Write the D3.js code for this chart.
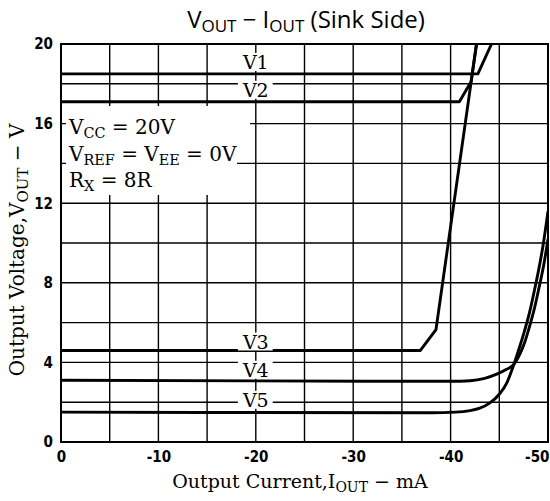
<!DOCTYPE html>
<html><head><meta charset="utf-8">
<script src="https://cdn.jsdelivr.net/npm/d3@7"></script>
<style>body{margin:0;background:#fff}</style>
</head><body><svg id="c" width="550" height="501"></svg>
<script>
// ---- data ----
const xTicks = [0, -10, -20, -30, -40, -50];
const yTicks = [0, 4, 8, 12, 16, 20];
const xGrid = [-5, -10, -15, -20, -25, -30, -35, -40, -45];
const yGrid = [2, 4, 6, 8, 10, 12, 14, 16, 18];
const seriesNames = ["V1", "V2", "V3", "V4", "V5"];
const v1Current = [0, -42.8, -44.2];
const v1Voltage = [18.5, 18.5, 20];
const v2Current = [0, -40.9, -42.1, -42.66];
const v2Voltage = [17.1, 17.1, 18.1, 20];
const v3Current = [0, -36.9, -38.5, -42.66];
const v3Voltage = [4.6, 4.6, 5.65, 20];
const v4Current = [0, -40, -42, -43.5, -44.8, -45.7, -46.5, -47.1, -47.6, -48.1, -48.6, -49.1, -49.6, -50];
const v4Voltage = [3.1, 3.05, 3.08, 3.2, 3.42, 3.64, 3.9, 4.4, 5.0, 5.8, 6.7, 7.8, 9.0, 10.2];
const v5Current = [0, -38, -40.5, -42, -43, -44, -45, -45.8, -46.5, -47.1, -47.6, -48.1, -48.6, -49.1, -49.5, -50];
const v5Voltage = [1.5, 1.47, 1.5, 1.58, 1.7, 1.95, 2.4, 3.0, 3.9, 4.8, 5.6, 6.5, 7.6, 8.8, 9.9, 11.6];
const labelCurrent = [-20, -20, -20, -20, -20];
const labelVoltage = [19.1, 17.7, 5.05, 3.63, 2.12];

const series = [
  {c: v1Current, v: v1Voltage, smooth: false},
  {c: v2Current, v: v2Voltage, smooth: false},
  {c: v3Current, v: v3Voltage, smooth: false},
  {c: v4Current, v: v4Voltage, smooth: true},
  {c: v5Current, v: v5Voltage, smooth: true}
];

// ---- layout ----
const L = 61, R = 548, T = 44, B = 442;
const svg = d3.select("#c");
const x = d3.scaleLinear().domain([0, -50]).range([L, R]);
const y = d3.scaleLinear().domain([0, 20]).range([B, T]);
const serif = "'DejaVu Serif', serif";
const sans = "'DejaVu Sans Condensed', 'DejaVu Sans', sans-serif";

svg.append("defs").append("clipPath").attr("id", "clip")
  .append("rect").attr("x", L).attr("y", T).attr("width", R - L).attr("height", B - T);

// grid
const g = svg.append("g").attr("stroke", "#000").attr("stroke-width", 1.4);
g.selectAll(".vg").data(xGrid).enter().append("line")
  .attr("x1", d => x(d)).attr("x2", d => x(d)).attr("y1", T).attr("y2", B);
g.selectAll(".hg").data(yGrid).enter().append("line")
  .attr("y1", d => y(d)).attr("y2", d => y(d)).attr("x1", L).attr("x2", R);

// curves
const plot = svg.append("g").attr("clip-path", "url(#clip)");
series.forEach(s => {
  const pts = s.c.map((c, i) => [-c, s.v[i]]);
  const line = d3.line().x(d => x(-d[0])).y(d => y(d[1]))
    .curve(s.smooth ? d3.curveMonotoneX : d3.curveLinear);
  plot.append("path").attr("d", line(pts)).attr("fill", "none")
    .attr("stroke", "#000").attr("stroke-width", 2.9).attr("stroke-linejoin", "round");
});

// frame
svg.append("rect").attr("x", L).attr("y", T).attr("width", R - L).attr("height", B - T)
  .attr("fill", "none").attr("stroke", "#000").attr("stroke-width", 2);

// series labels
seriesNames.forEach((n, i) => {
  const t = svg.append("text").attr("x", x(labelCurrent[i])).attr("y", y(labelVoltage[i]))
    .attr("text-anchor", "middle").attr("dominant-baseline", "central")
    .attr("font-family", serif).attr("font-size", 19).text(n);
  const bb = t.node().getBBox();
  svg.insert("rect", () => t.node()).attr("x", bb.x - 4).attr("y", bb.y + 2)
    .attr("width", bb.width + 8).attr("height", bb.height - 4).attr("fill", "#fff");
});

// condition box
svg.append("rect").attr("x", 66).attr("y", 106).attr("width", 184).attr("height", 30).attr("fill", "#fff");
svg.append("rect").attr("x", 66).attr("y", 136).attr("width", 171).attr("height", 59).attr("fill", "#fff");
function subText(xp, yp, parts, size) {
  const t = svg.append("text").attr("x", xp).attr("y", yp)
    .attr("font-family", serif).attr("font-size", size);
  parts.forEach(p => {
    if (p.sub) {
      t.append("tspan").attr("dy", 4).attr("font-size", size * 0.72).text(p.t);
    } else {
      t.append("tspan").attr("dy", p.back ? -4 : 0).text(p.t);
    }
  });
  return t;
}
subText(69, 134, [{t: "V"}, {t: "CC", sub: true}, {t: " = 20V", back: true}], 20);
subText(69, 161, [{t: "V"}, {t: "REF", sub: true}, {t: " = V", back: true}, {t: "EE", sub: true}, {t: " = 0V", back: true}], 20);
subText(69, 187, [{t: "R"}, {t: "X", sub: true}, {t: " = 8R", back: true}], 20);

// axes
const xAxis = svg.append("g").attr("transform", `translate(0,${B})`)
  .call(d3.axisBottom(x).tickValues(xTicks).tickSize(0).tickPadding(9).tickFormat(d => String(d)));
xAxis.select(".domain").remove();
xAxis.selectAll("text").attr("font-family", sans).attr("font-weight", "bold")
  .attr("font-size", 15).attr("fill", "#000");
xAxis.selectAll("text").filter(d => d === -50).attr("text-anchor", "end").attr("x", 1);

const yAxis = svg.append("g").attr("transform", `translate(${L},0)`)
  .call(d3.axisLeft(y).tickValues(yTicks).tickSize(0).tickPadding(8).tickFormat(d => String(d)));
yAxis.select(".domain").remove();
yAxis.selectAll("text").attr("font-family", sans).attr("font-weight", "bold")
  .attr("font-size", 15).attr("fill", "#000");

// axis titles
const xt = svg.append("text").attr("x", 300).attr("y", 488).attr("text-anchor", "middle")
  .attr("font-family", serif).attr("font-size", 19);
xt.append("tspan").text("Output Current,I");
xt.append("tspan").attr("dy", 4).attr("font-size", 14).text("OUT");
xt.append("tspan").attr("dy", -4).text(" − mA");

const yt = svg.append("text").attr("transform", "translate(24,250) rotate(-90)").attr("text-anchor", "middle")
  .attr("font-family", serif).attr("font-size", 20);
yt.append("tspan").text("Output Voltage,V");
yt.append("tspan").attr("dy", 4).attr("font-size", 15).text("OUT");
yt.append("tspan").attr("dy", -4).text(" − V");

// title
const tt = svg.append("text").attr("x", 306).attr("y", 28).attr("text-anchor", "middle")
  .attr("font-family", "'Open Sans', sans-serif").attr("font-size", 24);
tt.append("tspan").text("V");
tt.append("tspan").attr("dy", 4).attr("font-size", 17).text("OUT");
tt.append("tspan").attr("dy", -4).text(" − I");
tt.append("tspan").attr("dy", 4).attr("font-size", 17).text("OUT");
tt.append("tspan").attr("dy", -4).text(" (Sink Side)");
</script></body></html>
